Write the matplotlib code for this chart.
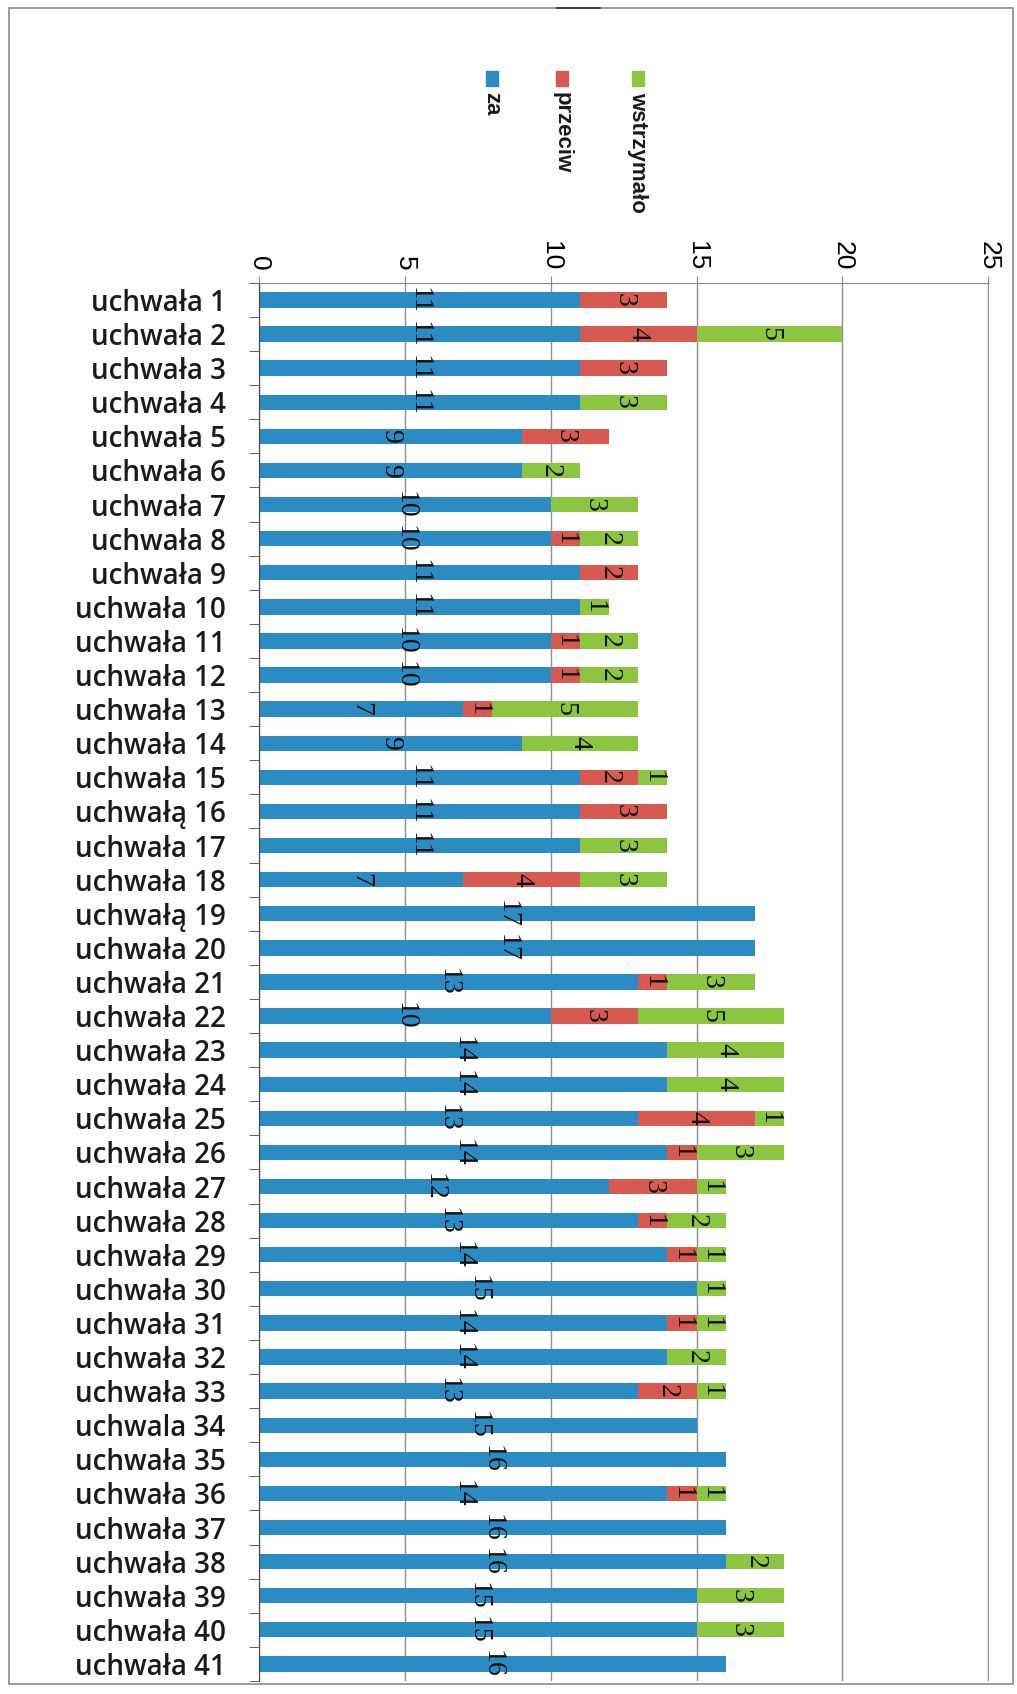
import matplotlib.pyplot as plt
from matplotlib.patches import Rectangle
from matplotlib.lines import Line2D

# nazwy uchwał (tak jak na wykresie)
labels = ["uchwała 1", "uchwała 2", "uchwała 3", "uchwała 4", "uchwała 5",
          "uchwała 6", "uchwała 7", "uchwała 8", "uchwała 9", "uchwała 10",
          "uchwała 11", "uchwała 12", "uchwała 13", "uchwała 14", "uchwała 15",
          "uchwałą 16", "uchwała 17", "uchwała 18", "uchwałą 19", "uchwała 20",
          "uchwała 21", "uchwała 22", "uchwała 23", "uchwała 24", "uchwała 25",
          "uchwała 26", "uchwała 27", "uchwała 28", "uchwała 29", "uchwała 30",
          "uchwała 31", "uchwała 32", "uchwała 33", "uchwala 34", "uchwała 35",
          "uchwała 36", "uchwała 37", "uchwała 38", "uchwała 39", "uchwała 40",
          "uchwała 41"]

za = [11, 11, 11, 11, 9, 9, 10, 10, 11, 11,
      10, 10, 7, 9, 11, 11, 11, 7, 17, 17,
      13, 10, 14, 14, 13, 14, 12, 13, 14, 15,
      14, 14, 13, 15, 16, 14, 16, 16, 15, 15,
      16]
przeciw = [3, 4, 3, 0, 3, 0, 0, 1, 2, 0,
           1, 1, 1, 0, 2, 3, 0, 4, 0, 0,
           1, 3, 0, 0, 4, 1, 3, 1, 1, 0,
           1, 0, 2, 0, 0, 1, 0, 0, 0, 0,
           0]
wstrzymalo = [0, 5, 0, 3, 0, 2, 3, 2, 0, 1,
              2, 2, 5, 4, 1, 0, 3, 3, 0, 0,
              3, 5, 4, 4, 1, 3, 1, 2, 1, 1,
              1, 2, 1, 0, 0, 1, 0, 2, 3, 3,
              0]

x_ticks = [0, 5, 10, 15, 20, 25]

blue = '#2b8bc3'
red = '#d65a50'
green = '#8cc540'


def add_labels(ax, lefts, values):
    for i, (left, val) in enumerate(zip(lefts, values)):
        if val > 0:
            ax.text(left + val / 2, i, str(val), rotation=-90,
                    ha='center', va='center', fontsize=20,
                    family='Liberation Serif', color='#111111')


def main():
    fig = plt.figure(figsize=(10.17, 16.94), dpi=100)
    ax = fig.add_axes([0.2547, 0.0077, 0.7178, 0.8253])

    y = list(range(len(labels)))
    left2 = za
    left3 = [a + b for a, b in zip(za, przeciw)]

    ax.barh(y, za, height=0.45, color=blue, zorder=2)
    ax.barh(y, przeciw, left=left2, height=0.45, color=red, zorder=2)
    ax.barh(y, wstrzymalo, left=left3, height=0.45, color=green, zorder=2)

    add_labels(ax, [0] * len(za), za)
    add_labels(ax, left2, przeciw)
    add_labels(ax, left3, wstrzymalo)

    ax.set_xlim(0, 25.03)
    ax.set_ylim(len(labels) - 0.5, -0.5)

    # os wartosci na gorze, opisy obrocone
    ax.xaxis.tick_top()
    ax.set_xticks(x_ticks)
    ax.set_xticklabels([str(t) for t in x_ticks], rotation=-90,
                       fontsize=19, family='Liberation Sans')
    ax.tick_params(axis='x', length=5, color='#888888', pad=4)
    ax.grid(axis='x', color='#8e8e8e', linewidth=1.0, zorder=0)

    ax.set_yticks(y)
    ax.set_yticklabels(labels, fontsize=20, family='Open Sans',
                       fontweight='semibold', color='#1a1a1a')
    ax.tick_params(axis='y', which='major', length=0, pad=24)
    ax.set_yticks([i + 0.5 for i in range(-1, len(labels))], minor=True)
    ax.tick_params(axis='y', which='minor', length=7, color='#444444')

    ax.spines['right'].set_visible(False)
    ax.spines['bottom'].set_visible(False)
    ax.spines['top'].set_color('#888888')
    ax.spines['left'].set_color('#444444')

    # legenda rysowana recznie (tekst obrocony)
    legend_items = [('za', blue, 492), ('przeciw', red, 562),
                    ('wstrzymało', green, 638)]
    for name, col, px in legend_items:
        xf = px / 1017
        fig.add_artist(Rectangle((xf - 6 / 1017, 1 - 86 / 1694),
                                 12 / 1017, 15 / 1694,
                                 transform=fig.transFigure, color=col))
        fig.text(xf, 1 - 92 / 1694, name, rotation=-90, ha='center',
                 va='top', fontsize=16, fontweight='bold',
                 family='Liberation Sans', color='#1a1a1a')

    # ramka wykresu
    fig.add_artist(Rectangle((9 / 1017, 10 / 1694), 1004 / 1017,
                             1676 / 1694, transform=fig.transFigure,
                             fill=False, edgecolor='#8a8a8a', linewidth=1.2))
    fig.add_artist(Line2D([557 / 1017, 600 / 1017],
                          [1 - 8 / 1694, 1 - 8 / 1694],
                          transform=fig.transFigure, color='#333333',
                          linewidth=1.2))

    fig.savefig('out.png', dpi=100, facecolor='white')


if __name__ == "__main__":
    main()
